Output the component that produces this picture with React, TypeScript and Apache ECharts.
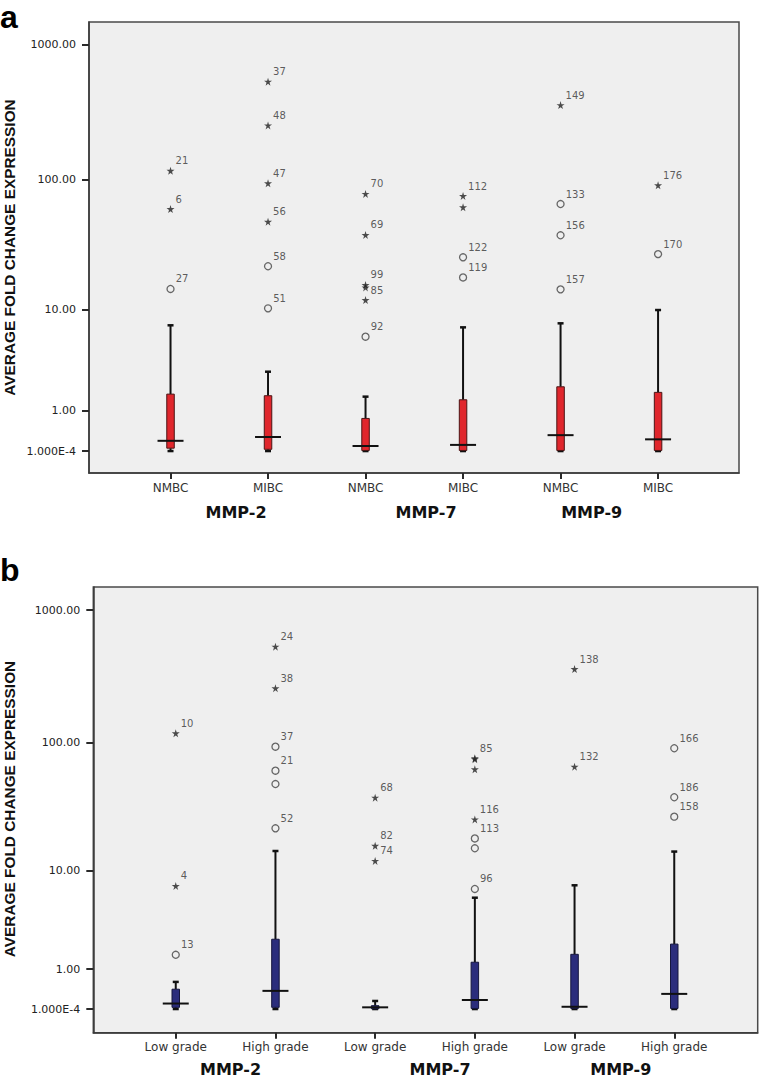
import React, { useEffect, useRef } from "react";
import * as echarts from "echarts";

// ---------- data ----------
const groups = ["MMP-2", "MMP-7", "MMP-9"];
const categoriesA = ["NMBC", "MIBC", "NMBC", "MIBC", "NMBC", "MIBC"];
const categoriesB = ["Low grade", "High grade", "Low grade", "High grade", "Low grade", "High grade"];
const yTickValues = [0.0001, 1, 10, 100, 1000];
const yTickLabels = ["1.000E-4", "1.00", "10.00", "100.00", "1000.00"];

// panel a: box statistics (fold change)
const lowA = [0.0001, 0.0001, 0.0001, 0.0001, 0.0001, 0.0001];
const q1A = [0.05, 0.03, 0.01, 0.01, 0.01, 0.01];
const medA = [0.19, 0.27, 0.09, 0.11, 0.31, 0.22];
const q3A = [1.63, 1.56, 0.74, 1.39, 1.98, 1.71];
const highA = [7.47, 2.85, 1.52, 7.18, 7.76, 9.98];

// panel a outliers: [category index, value, case label]
const starsA: [number, number, string][] = [
  [0, 116, "21"], [0, 60, "6"],
  [1, 531, "37"], [1, 252, "48"], [1, 93.6, "47"], [1, 48.2, "56"],
  [2, 77.9, "70"], [2, 38.3, "69"], [2, 15.8, "99"], [2, 15.1, ""], [2, 12.0, "85"],
  [3, 75.2, "112"], [3, 61.9, ""],
  [4, 356, "149"],
  [5, 90.4, "176"],
];
const circlesA: [number, number, string][] = [
  [0, 14.7, "27"],
  [1, 22.1, "58"], [1, 10.3, "51"],
  [2, 5.98, "92"],
  [3, 25.9, "122"], [3, 18.1, "119"],
  [4, 65.5, "133"], [4, 38.1, "156"], [4, 14.6, "157"],
  [5, 27.4, "170"],
];

// panel b: box statistics
const lowB = [0.0001, 0.0001, 0.0001, 0.0001, 0.0001, 0.0001];
const q1B = [0.03, 0.03, 0.005, 0.01, 0.01, 0.01];
const medB = [0.10, 0.37, 0.03, 0.17, 0.04, 0.30];
const q3B = [0.41, 2.35, 0.06, 1.25, 1.58, 2.08];
const highB = [0.60, 14.45, 0.15, 5.88, 7.53, 14.3];

const starsB: [number, number, string][] = [
  [0, 117.7, "10"], [0, 7.43, "4"],
  [1, 531, "24"], [1, 258, "38"],
  [2, 37.9, "68"], [2, 15.9, "82"], [2, 12.0, "74"],
  [3, 75.9, "85"], [3, 74.8, ""], [3, 62.6, ""], [3, 25.7, "116"],
  [4, 360, "138"], [4, 65.5, "132"],
];
const circlesB: [number, number, string][] = [
  [0, 1.56, "13"],
  [1, 93.1, "37"], [1, 61.1, "21"], [1, 48.3, ""], [1, 21.9, "52"],
  [3, 18.2, "113"], [3, 15.2, ""], [3, 7.0, "96"],
  [5, 90.6, "166"], [5, 38.2, "186"], [5, 27.0, "158"],
];

// ---------- helpers ----------
const safeLog = (v: number) => Math.log10(v + 1);
const tickT = yTickValues.map(safeLog);
const catIdx = [0, 1, 2, 3, 4, 5];

const STAR = "path://M50,2 L61,37 L98,37 L68,59 L79,95 L50,73 L21,95 L32,59 L2,37 L39,37 Z";

function boxRows(lo: number[], q1: number[], me: number[], q3: number[], hi: number[]) {
  return lo.map((_, i) => [i, safeLog(lo[i]), safeLog(q1[i]), safeLog(me[i]), safeLog(q3[i]), safeLog(hi[i])]);
}

function App() {
  const ref = useRef<HTMLDivElement>(null);
  useEffect(() => {
    if (!ref.current) return;
    const chart = echarts.init(ref.current, null, { renderer: "svg" });

    const yLabelFmt = (v: number) => {
      for (let i = 0; i < tickT.length; i++) if (Math.abs(tickT[i] - v) < 1e-6) return yTickLabels[i];
      return "";
    };

    const makeY = (gi: number, min: number, max: number) => ({
      type: "value",
      gridIndex: gi,
      min,
      max,
      splitLine: { show: false },
      axisLine: { show: true, onZero: false, lineStyle: { color: "#3a3a3a", width: 1.5 } },
      axisTick: { show: true, length: 7, customValues: tickT, lineStyle: { color: "#2a2a2a", width: 2 } },
      axisLabel: {
        show: true,
        customValues: tickT,
        formatter: yLabelFmt,
        fontFamily: "DejaVu Sans",
        fontSize: 11,
        color: "#222",
        margin: 13,
      },
    });

    const makeX = (gi: number, min: number, max: number, cats: string[], margin: number) => ({
      type: "value",
      gridIndex: gi,
      min,
      max,
      splitLine: { show: false },
      axisLine: { show: true, onZero: false, lineStyle: { color: "#3a3a3a", width: 1.5 } },
      axisTick: { show: true, length: 6, customValues: catIdx, lineStyle: { color: "#2a2a2a", width: 2 } },
      axisLabel: {
        show: true,
        customValues: catIdx,
        formatter: (v: number) => cats[Math.round(v)] ?? "",
        fontFamily: "DejaVu Sans",
        fontSize: 12,
        color: "#333",
        margin,
      },
    });

    const boxSeries = (gi: number, rows: number[][], fill: string, stroke: string) => ({
      type: "custom",
      xAxisIndex: gi,
      yAxisIndex: gi,
      encode: { x: 0, y: [1, 2, 3, 4, 5] },
      data: rows,
      renderItem: (params: any, api: any) => {
        const x = api.value(0);
        const pLow = api.coord([x, api.value(1)]);
        const pQ1 = api.coord([x, api.value(2)]);
        const pMed = api.coord([x, api.value(3)]);
        const pQ3 = api.coord([x, api.value(4)]);
        const pHigh = api.coord([x, api.value(5)]);
        const cx = pLow[0];
        const bw = 7.5, mw = 26, cw = 6;
        const blk = "#111";
        return {
          type: "group",
          children: [
            { type: "line", shape: { x1: cx, y1: pQ3[1], x2: cx, y2: pHigh[1] }, style: { stroke: blk, lineWidth: 2 } },
            { type: "line", shape: { x1: cx, y1: pQ1[1], x2: cx, y2: pLow[1] }, style: { stroke: blk, lineWidth: 2 } },
            { type: "line", shape: { x1: cx - cw / 2, y1: pHigh[1], x2: cx + cw / 2, y2: pHigh[1] }, style: { stroke: blk, lineWidth: 2.5 } },
            { type: "line", shape: { x1: cx - cw / 2, y1: pLow[1], x2: cx + cw / 2, y2: pLow[1] }, style: { stroke: blk, lineWidth: 2.5 } },
            {
              type: "rect",
              shape: { x: cx - bw / 2, y: pQ3[1], width: bw, height: Math.max(pQ1[1] - pQ3[1], 1) },
              style: { fill, stroke, lineWidth: 1 },
            },
            { type: "line", shape: { x1: cx - mw / 2, y1: pMed[1], x2: cx + mw / 2, y2: pMed[1] }, style: { stroke: blk, lineWidth: 2 } },
          ],
        };
      },
      z: 2,
    });

    const labelCfg = {
      show: true,
      position: "right",
      distance: 1,
      offset: [0, -10],
      formatter: (p: any) => p.data[2],
      fontFamily: "DejaVu Sans",
      fontSize: 10,
      color: "#333",
    };

    const outlierSeries = (gi: number, pts: [number, number, string][], star: boolean) => ({
      type: "scatter",
      xAxisIndex: gi,
      yAxisIndex: gi,
      symbol: star ? STAR : "circle",
      symbolSize: star ? 8 : 7,
      itemStyle: star
        ? { color: "#222" }
        : { color: "rgba(0,0,0,0)", borderColor: "#444", borderWidth: 1.3 },
      data: pts.map((p) => [p[0], safeLog(p[1]), p[2]]),
      label: labelCfg,
      z: 3,
    });

    const groupText = (x: number, y: number, t: string) => ({
      type: "text",
      x,
      y,
      style: {
        text: t,
        fontFamily: "DejaVu Sans",
        fontWeight: "bold",
        fontSize: 16,
        fill: "#111",
        align: "center",
        textAlign: "center",
        verticalAlign: "middle",
        textVerticalAlign: "middle",
      },
    });

    const yTitle = (y: number) => ({
      type: "text",
      x: 9,
      y,
      rotation: Math.PI / 2,
      style: {
        text: "AVERAGE FOLD CHANGE EXPRESSION",
        fontFamily: "Liberation Sans",
        fontWeight: "bold",
        fontSize: 15.4,
        fill: "#111",
        align: "center",
        textAlign: "center",
        verticalAlign: "middle",
        textVerticalAlign: "middle",
      },
    });

    const panelLetter = (y: number, t: string) => ({
      type: "text",
      x: 0,
      y,
      style: {
        text: t,
        fontFamily: "Liberation Sans",
        fontWeight: "bold",
        fontSize: 32,
        fill: "#000",
        align: "left",
        textAlign: "left",
        verticalAlign: "middle",
        textVerticalAlign: "middle",
      },
    });

    const gridStyle = { show: true, backgroundColor: "#efefef", borderColor: "#4a4a4a", borderWidth: 1.5 };

    chart.setOption({
      animation: false,
      backgroundColor: "#ffffff",
      grid: [
        { left: 89, top: 22, width: 650, height: 451, ...gridStyle },
        { left: 93.3, top: 587, width: 664.4, height: 445.7, ...gridStyle },
      ],
      xAxis: [
        makeX(0, -0.836, 5.83, categoriesA, 9),
        makeX(1, -0.827, 5.837, categoriesB, 8),
      ],
      yAxis: [makeY(0, -0.162, 3.166), makeY(1, -0.178, 3.175)],
      series: [
        boxSeries(0, boxRows(lowA, q1A, medA, q3A, highA), "#e0262c", "#4a1515"),
        outlierSeries(0, starsA, true),
        outlierSeries(0, circlesA, false),
        boxSeries(1, boxRows(lowB, q1B, medB, q3B, highB), "#2b2d7c", "#15163d"),
        outlierSeries(1, starsB, true),
        outlierSeries(1, circlesB, false),
      ],
      graphic: [
        panelLetter(17, "a"),
        panelLetter(570, "b"),
        yTitle(247.5),
        yTitle(809),
        groupText(236, 512.5, groups[0]),
        groupText(426, 512.5, groups[1]),
        groupText(591.7, 512.5, groups[2]),
        groupText(230.5, 1069.5, groups[0]),
        groupText(440, 1069.5, groups[1]),
        groupText(620.8, 1069.5, groups[2]),
      ],
    });
    return () => chart.dispose();
  }, []);
  return <div ref={ref} style={{ position: "absolute", left: 0, top: 0, width: 761, height: 1078 }} />;
}

export default App;
